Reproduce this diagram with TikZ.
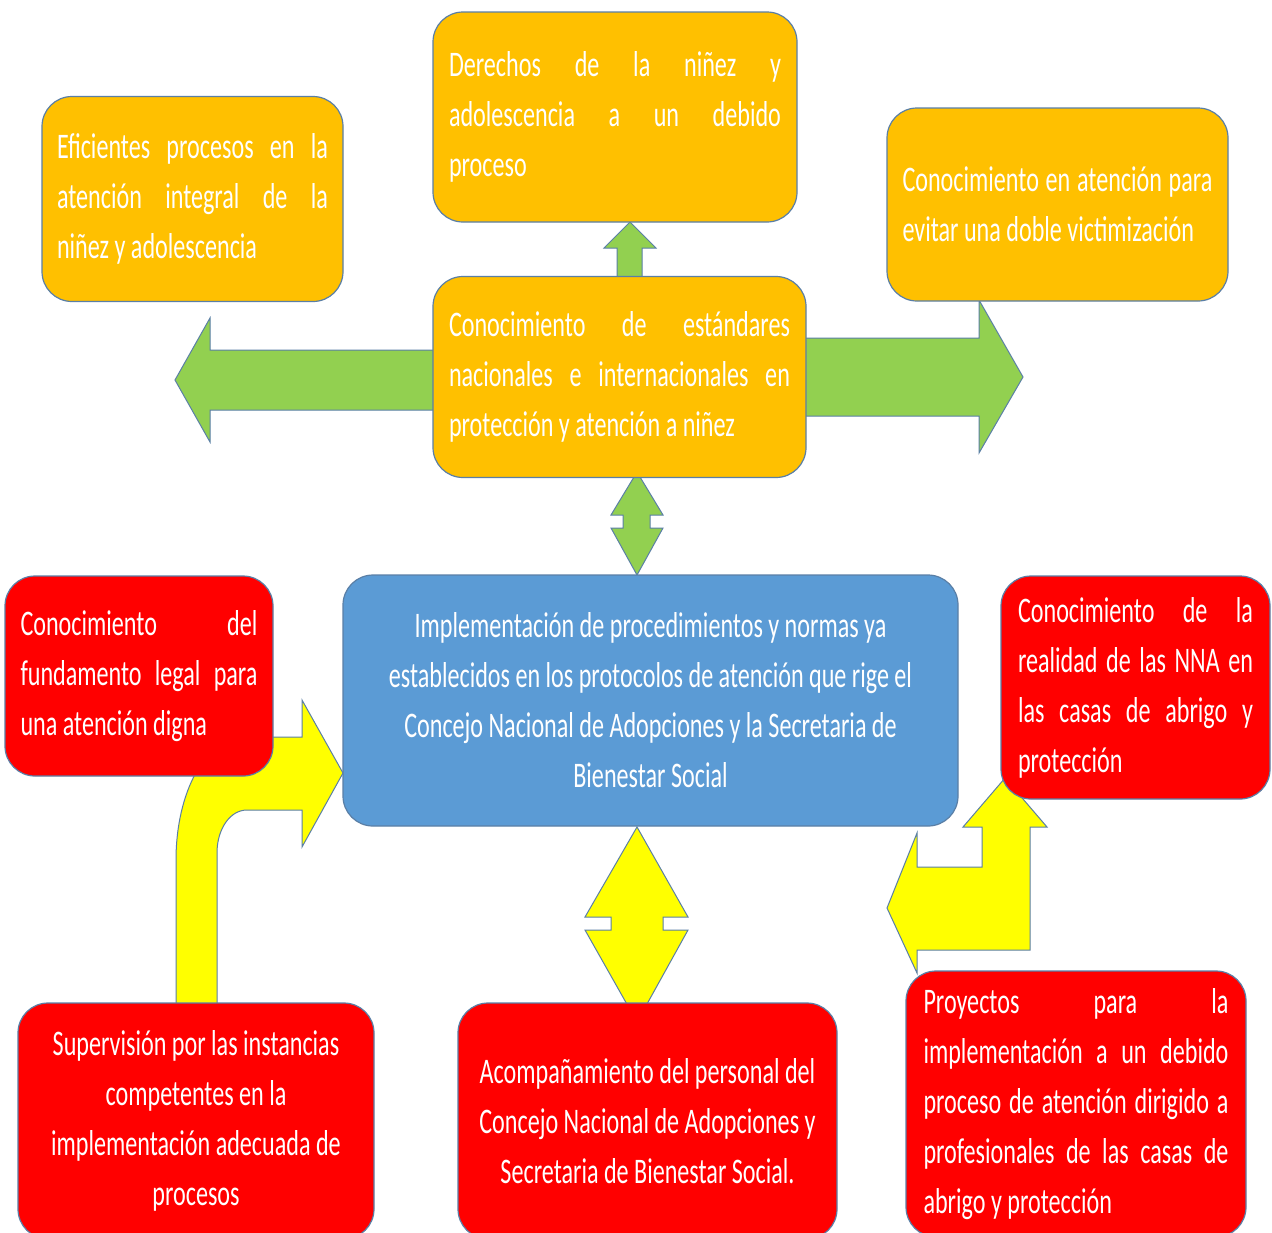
\documentclass[tikz,border=0pt]{standalone}
\usepackage{fontspec}
\setmainfont{Carlito}[FakeStretch=0.67]
\definecolor{boxorange}{HTML}{FFC000}
\definecolor{boxred}{HTML}{FF0000}
\definecolor{boxblue}{HTML}{5B9BD5}
\definecolor{arrgreen}{HTML}{92D050}
\definecolor{arryellow}{HTML}{FFFF00}
\definecolor{edgeblue}{HTML}{5A7FA6}
\tikzset{
  box/.style={draw=edgeblue, line width=0.6pt, rounded corners=15pt, inner sep=0pt,
    text=white, font=\fontsize{18}{25}\selectfont},
  jbox/.style={box, align=justify},
  cbox/.style={box, align=flush center},
  garrow/.style={fill=arrgreen, draw=edgeblue, line width=0.5pt, line join=miter},
  yarrow/.style={fill=arryellow, draw=edgeblue, line width=0.5pt, line join=miter}
}
\begin{document}
\begin{tikzpicture}[x=0.5pt,y=-0.5pt]
\useasboundingbox (0,0) rectangle (1272,1232);
\clip (0,0) rectangle (1272,1232);
\fill[white] (0,0) rectangle (1272,1232);

% green arrows
\draw[garrow] (617,280) -- (617,248) -- (604,248) -- (630,222) -- (656,248) -- (642,248) -- (642,280) -- cycle;
\draw[garrow] (440,350) -- (210,350) -- (210,318) -- (175,380) -- (210,442) -- (210,410) -- (440,410) -- cycle;
\draw[garrow] (800,338) -- (979,338) -- (979,300) -- (1023,377) -- (979,453) -- (979,416) -- (800,416) -- cycle;
\draw[garrow] (637,472) -- (663,515) -- (650,515) -- (650,528) -- (663,528) -- (637,575) -- (611,528) -- (623,528) -- (623,515) -- (611,515) -- cycle;

% yellow arrows
\draw[yarrow] (637,827) -- (688,917) -- (663,917) -- (663,930) -- (688,930) -- (637,1022) -- (585,930) -- (611,930) -- (611,917) -- (585,917) -- cycle;
\draw[yarrow] (176,1010) -- (176,860) .. controls (176,792) and (206,737) .. (244,737) -- (302,737) -- (302,700) -- (343,773) -- (302,847) -- (302,810) -- (247,810) .. controls (230,810) and (217,829) .. (217,853) -- (217,1010) -- cycle;
\draw[yarrow] (887,908) -- (917,833) -- (917,867) -- (982,867) -- (982,827) -- (963,827) -- (1005,778) -- (1047,827) -- (1030,827) -- (1030,950) -- (917,950) -- (917,973) -- cycle;

% orange boxes
\node[jbox, fill=boxorange, minimum width=150.5pt, minimum height=102.5pt, text width=135.5pt] (eficientes) at (192.5,199)
  {Eficientes procesos en la\linebreak atención integral de la\linebreak niñez y adolescencia};
\node[jbox, fill=boxorange, minimum width=182pt, minimum height=105pt, text width=166pt] (derechos) at (615,117)
  {Derechos de la niñez y\linebreak adolescencia a un debido\linebreak proceso};
\node[jbox, fill=boxorange, minimum width=170.5pt, minimum height=96.5pt, text width=155pt] (victim) at (1057.5,204.5)
  {Conocimiento en atención para\linebreak evitar una doble victimización};
\node[jbox, fill=boxorange, minimum width=186.5pt, minimum height=100.5pt, text width=170.5pt] (estandares) at (619.5,377)
  {Conocimiento de estándares\linebreak nacionales e internacionales en\linebreak protección y atención a niñez};

% blue box
\node[cbox, fill=boxblue, minimum width=307.5pt, minimum height=125.5pt, text width=290pt] (impl) at (650.5,700.5)
  {Implementación de procedimientos y normas ya\\ establecidos en los protocolos de atención que rige el\\ Concejo Nacional de Adopciones y la Secretaria de\\ Bienestar Social};

% red boxes
\node[jbox, fill=boxred, minimum width=134pt, minimum height=100pt, text width=118.5pt] (legal) at (139,676)
  {Conocimiento del\linebreak fundamento legal para\linebreak una atención digna};
\node[jbox, fill=boxred, minimum width=134.5pt, minimum height=111.5pt, text width=117.5pt] (realidad) at (1135.5,687.5)
  {Conocimiento de la\linebreak realidad de las NNA en\linebreak las casas de abrigo y\linebreak protección};
\node[cbox, fill=boxred, minimum width=178pt, minimum height=118pt, text width=165pt] (supervision) at (196,1121)
  {Supervisión por las instancias\\ competentes en la\\ implementación adecuada de\\ procesos};
\node[cbox, fill=boxred, minimum width=189.5pt, minimum height=118pt, text width=180pt] (acomp) at (647.5,1121)
  {Acompañamiento del personal del\\ Concejo Nacional de Adopciones y\\ Secretaria de Bienestar Social.};
\node[jbox, fill=boxred, minimum width=170pt, minimum height=133pt, text width=152.5pt] (proyectos) at (1076,1104)
  {Proyectos para la\linebreak implementación a un debido\linebreak proceso de atención dirigido a\linebreak profesionales de las casas de\linebreak abrigo y protección};
\end{tikzpicture}
\end{document}
